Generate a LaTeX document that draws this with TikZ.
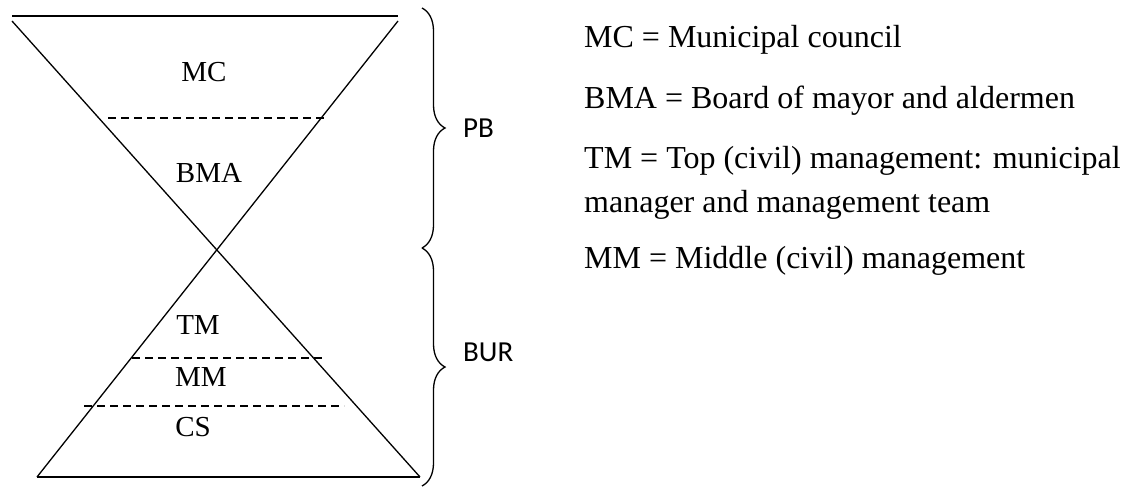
\documentclass[tikz,border=0pt]{standalone}
\usepackage{fontspec}
\setmainfont{Liberation Serif}
\newfontfamily\groupfont{Carlito}
\usetikzlibrary{decorations.pathreplacing}
\begin{document}
\begin{tikzpicture}[x=1pt,y=-1pt,
  edge/.style={line width=1.3pt},
  level/.style={line width=1.1pt, dash pattern=on 8pt off 5pt},
  tier/.style={font=\fontsize{29}{29}\selectfont, inner sep=0pt},
  group/.style={font=\groupfont\fontsize{29}{29}\selectfont, anchor=west, inner sep=0pt},
  legend/.style={font=\fontsize{32}{32}\selectfont, anchor=base west, inner sep=0pt},
  bracket/.style={decorate, decoration={brace, amplitude=23pt}, line width=1.3pt}]
\useasboundingbox (0,0) rectangle (1125,487);

% hourglass outline
\coordinate (topL) at (12,16);
\coordinate (topR) at (398,16);
\coordinate (tl) at (12,21);
\coordinate (tr) at (398,21);
\coordinate (bl) at (37,477);
\coordinate (br) at (420,477);
\draw[edge] (topL) -- (topR);
\draw[edge] (tl) -- (br);
\draw[edge] (tr) -- (bl);
\draw[edge] (bl) -- (br);

% level separators
\coordinate (d1a) at (108,118); \coordinate (d1b) at (325,118);
\coordinate (d2a) at (132,358); \coordinate (d2b) at (322,358);
\coordinate (d3a) at (84,406);  \coordinate (d3b) at (344,406);
\draw[level] (d1a) -- (d1b);
\draw[level] (d2a) -- (d2b);
\draw[level] (d3a) -- (d3b);

% tier labels
\node[tier] (mc)  at (204,72)  {MC};
\node[tier] (bma) at (209,173) {BMA};
\node[tier] (tm)  at (198,325) {TM};
\node[tier] (mm)  at (201,377) {MM};
\node[tier] (cs)  at (193,427) {CS};

% braces grouping the tiers
\coordinate (b1) at (422,8);
\coordinate (b2) at (422,248);
\coordinate (b3) at (422,486);
\draw[bracket] (b1) -- (b2);
\draw[bracket] (b2) -- (b3);
\node[group] (pb)  at (463,128) {PB};
\node[group] (bur) at (463,352) {BUR};

% legend
\node[legend] (l1) at (584,48)  {MC = Municipal council};
\node[legend] (l2) at (584,108) {BMA = Board of mayor and aldermen};
\node[legend] (l3) at (584,168) {TM = Top (civil) management: municipal};
\node[legend] (l4) at (584,212) {manager and management team};
\node[legend] (l5) at (584,268) {MM = Middle (civil) management};
\end{tikzpicture}
\end{document}
